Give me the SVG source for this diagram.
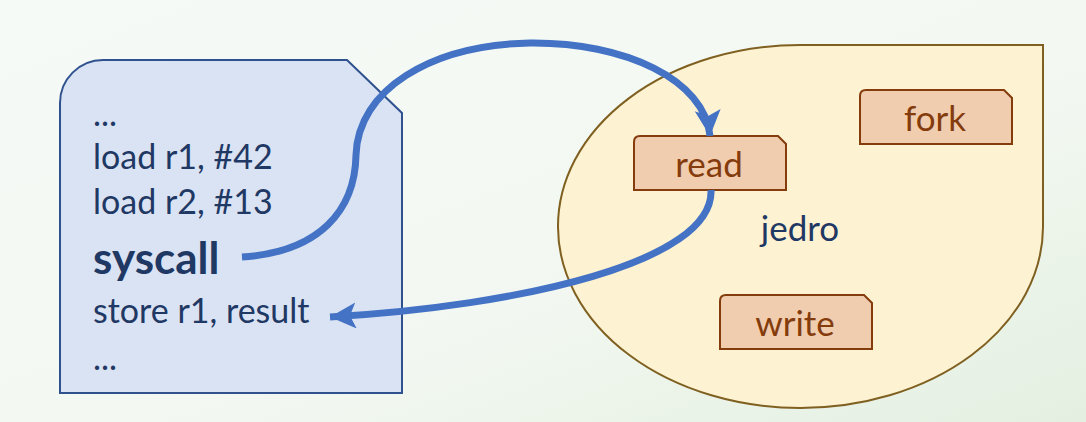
<svg xmlns="http://www.w3.org/2000/svg" width="1086" height="422" viewBox="0 0 1086 422">
<defs>
<linearGradient id="bg" x1="0" y1="0" x2="1" y2="1">
<stop offset="0" stop-color="#F6FAF7"/>
<stop offset="0.6" stop-color="#F2F8F1"/>
<stop offset="1" stop-color="#E4EFE1"/>
</linearGradient>
<marker id="ah" markerUnits="userSpaceOnUse" markerWidth="32" markerHeight="32" refX="26" refY="13" orient="auto">
<path d="M0,0 L26,13 L0,26 L6,13 Z" fill="#4472C4"/>
</marker>
<style>
.code{font-family:Lato,"Open Sans",sans-serif;font-size:34px;fill:#1F3864}
.fn{font-family:Lato,"Open Sans",sans-serif;font-size:35px;fill:#843C0C;text-anchor:middle}
.fnbox{fill:#F1CDB0;stroke:#843C0C;stroke-width:2}
.conn{fill:none;stroke:#4472C4;stroke-width:7}
</style>
</defs>
<rect width="1086" height="422" fill="url(#bg)"/>
<g id="program">
<path d="M60 393 L60 103 A43 43 0 0 1 103 60 L347 60 L402 113 L402 393 Z" fill="#DAE3F3" stroke="#2F528F" stroke-width="2"/>
<text class="code" x="93" y="126">...</text>
<text class="code" x="93" y="169">load r1, #42</text>
<text class="code" x="93" y="214">load r2, #13</text>
<text class="code" x="93" y="274" style="font-size:44px;font-weight:bold">syscall</text>
<text class="code" x="93" y="323">store r1, result</text>
<text class="code" x="93" y="370">...</text>
</g>
<g id="kernel">
<path d="M558 227 A242.5 181.5 0 0 1 800.5 45 L1043 45 L1043 227 A242.5 181.5 0 0 1 800.5 408 A242.5 181.5 0 0 1 558 227 Z" fill="#FDF2D2" stroke="#7F6020" stroke-width="2"/>
<text x="800" y="241" style="font-family:Lato,'Open Sans',sans-serif;font-size:35px;fill:#1F3864;text-anchor:middle">jedro</text>
</g>
<g id="read">
<path class="fnbox" d="M634 190 L634 142 Q634 136 640 136 L778 136 L786 144 L786 190 Z"/>
<text class="fn" x="709" y="177">read</text>
</g>
<g id="fork">
<path class="fnbox" d="M860 144 L860 96 Q860 90 866 90 L1004 90 L1012 98 L1012 144 Z"/>
<text class="fn" x="935" y="131">fork</text>
</g>
<g id="write">
<path class="fnbox" d="M720 349 L720 301 Q720 295 726 295 L864 295 L872 303 L872 349 Z"/>
<text class="fn" x="795" y="336">write</text>
</g>
<g id="connectors">
<path class="conn" d="M242 257 C320 252 355 210 356 155 C358 90 430 45 530 43 C625 42 705 80 710 136" marker-end="url(#ah)"/>
<path class="conn" d="M711 190 C714 262 520 306 330 317" marker-end="url(#ah)"/>
</g>
</svg>
